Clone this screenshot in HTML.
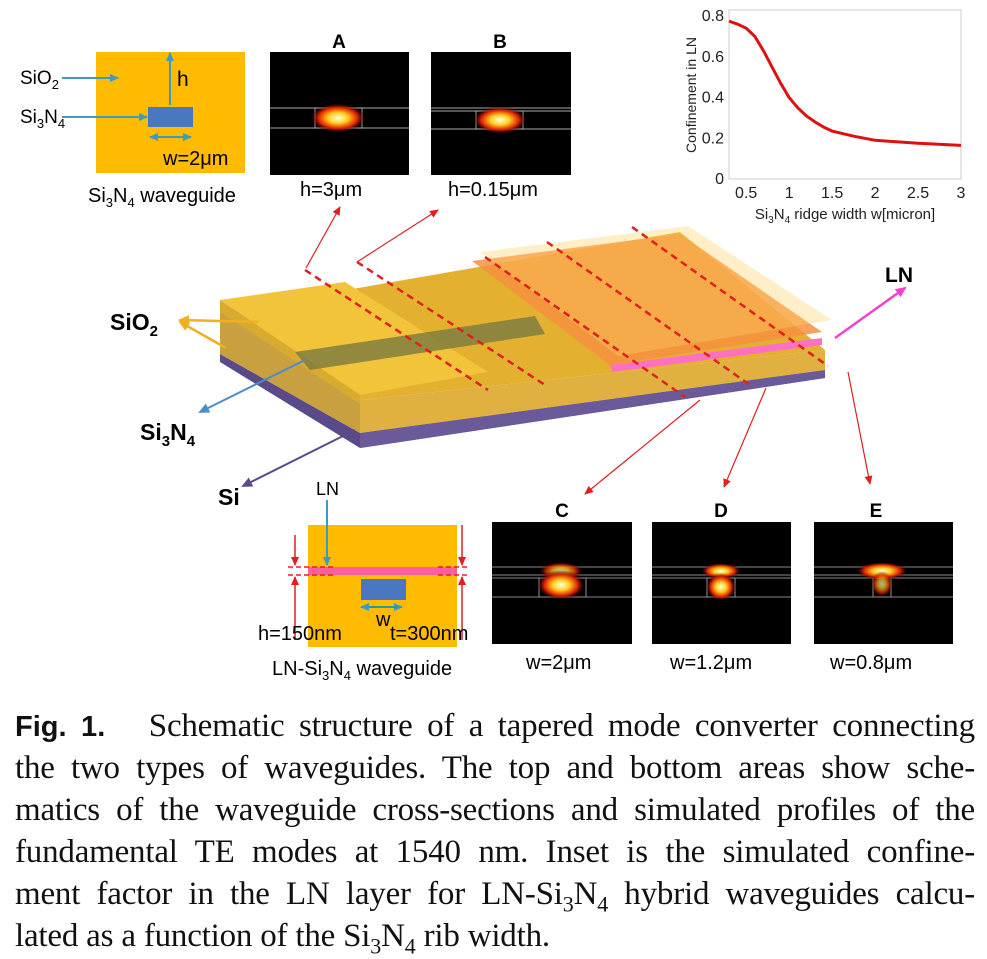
<!DOCTYPE html>
<html><head><meta charset="utf-8">
<style>
body{margin:0;background:#fff;}
#wrap{position:relative;width:987px;height:959px;overflow:hidden;background:#fff;font-family:"Liberation Sans",sans-serif;}
.cap{position:absolute;left:15px;top:705px;width:960px;font-family:"Liberation Serif",serif;font-size:33px;line-height:42px;color:#111;letter-spacing:-0.2px;}
.cap div{text-align:justify;text-align-last:justify;white-space:nowrap;height:42px;}
.cap div.last{text-align-last:left;}
.cap b{font-family:"Liberation Sans",sans-serif;font-size:29px;letter-spacing:0;}
.cap sub{font-size:22px;line-height:0;}
</style></head>
<body>
<div id="wrap">
<svg width="987" height="700" style="position:absolute;left:0;top:0" font-family="Liberation Sans, DejaVu Sans, sans-serif">
<defs>
<radialGradient id="glow"><stop offset="0" stop-color="#ffffe0"/><stop offset="0.35" stop-color="#ffd020"/><stop offset="0.7" stop-color="#e02000"/><stop offset="1" stop-color="#200000" stop-opacity="0"/></radialGradient>
<marker id="ab" markerUnits="userSpaceOnUse" markerWidth="10" markerHeight="10" refX="8" refY="5" orient="auto"><path d="M0,1L9,5L0,9z" fill="#3d9bbf"/></marker>
<marker id="ar" markerUnits="userSpaceOnUse" markerWidth="10" markerHeight="10" refX="8" refY="5" orient="auto"><path d="M0,1L9,5L0,9z" fill="#e02020"/></marker>
<marker id="ay" markerUnits="userSpaceOnUse" markerWidth="12" markerHeight="12" refX="9" refY="6" orient="auto"><path d="M0,1L11,6L0,11z" fill="#f0b020"/></marker>
<marker id="abl" markerUnits="userSpaceOnUse" markerWidth="12" markerHeight="12" refX="9" refY="6" orient="auto"><path d="M0,1L11,6L0,11z" fill="#4a8ccc"/></marker>
<marker id="ap" markerUnits="userSpaceOnUse" markerWidth="12" markerHeight="12" refX="9" refY="6" orient="auto"><path d="M0,1L11,6L0,11z" fill="#5a4a8a"/></marker>
<marker id="am" markerUnits="userSpaceOnUse" markerWidth="12" markerHeight="12" refX="9" refY="6" orient="auto"><path d="M0,1L11,6L0,11z" fill="#ee44cc"/></marker>
</defs>

<g>
<rect x="96" y="52" width="149" height="121" fill="#ffbb00"/>
<rect x="148" y="107" width="45" height="20" fill="#4a78c0"/>
<line x1="170" y1="105" x2="170" y2="53" stroke="#3d9bbf" stroke-width="2" marker-end="url(#ab)"/>
<text x="177" y="86" font-size="21">h</text>
<line x1="62" y1="78" x2="118" y2="78" stroke="#3d9bbf" stroke-width="2" marker-end="url(#ab)"/>
<line x1="62" y1="117" x2="147" y2="117" stroke="#3d9bbf" stroke-width="2" marker-end="url(#ab)"/>
<line x1="152" y1="137" x2="191" y2="137" stroke="#3d9bbf" stroke-width="2" marker-end="url(#ab)"/>
<line x1="188" y1="137" x2="150" y2="137" stroke="#3d9bbf" stroke-width="2" marker-end="url(#ab)"/>
<text x="163" y="165" font-size="20">w=2μm</text>
<text x="20" y="84" font-size="19">SiO<tspan font-size="13" dy="5">2</tspan></text>
<text x="20" y="123" font-size="19">Si<tspan font-size="13" dy="5">3</tspan><tspan dy="-5">N</tspan><tspan font-size="13" dy="5">4</tspan></text>
<text x="88" y="202" font-size="20">Si<tspan font-size="13" dy="5">3</tspan><tspan dy="-5">N</tspan><tspan font-size="13" dy="5">4</tspan><tspan dy="-5"> waveguide</tspan></text>
</g>

<g>
<text x="339" y="48" font-size="19" font-weight="bold" text-anchor="middle">A</text>
<rect x="270" y="52" width="139" height="123" fill="#000"/>
<line x1="270" y1="108" x2="409" y2="108" stroke="#888" stroke-width="1.2"/>
<line x1="270" y1="128" x2="409" y2="128" stroke="#888" stroke-width="1.2"/>
<rect x="315" y="108" width="47" height="20" fill="none" stroke="#888" stroke-width="1.2"/>
<ellipse cx="338" cy="118" rx="28" ry="15" fill="url(#glow)"/>
<text x="300" y="196" font-size="20">h=3μm</text>
</g>
<g>
<text x="500" y="48" font-size="19" font-weight="bold" text-anchor="middle">B</text>
<rect x="431" y="52" width="140" height="123" fill="#000"/>
<line x1="431" y1="108" x2="571" y2="108" stroke="#888" stroke-width="1.2"/>
<line x1="431" y1="111" x2="571" y2="111" stroke="#888" stroke-width="1.2"/>
<line x1="431" y1="129" x2="571" y2="129" stroke="#888" stroke-width="1.2"/>
<rect x="476" y="111" width="47" height="18" fill="none" stroke="#888" stroke-width="1.2"/>
<ellipse cx="500" cy="120" rx="27" ry="14" fill="url(#glow)"/>
<text x="448" y="196" font-size="20">h=0.15μm</text>
</g>

<g>
<polygon points="220,354 360,433 825,370 825,378 360,448 220,362" fill="#5a4a8a"/>
<polygon points="360,433 825,370 825,378 360,448" fill="#6b5a9a"/>
<polygon points="220,312 360,400 360,433 220,354" fill="#c8a040"/>
<polygon points="360,400 825,350 825,370 360,433" fill="#e0b040"/>
<polygon points="220,312 680,232 825,350 360,400" fill="#e4b030"/>
<polygon points="220,300 345,282 488,372 360,395" fill="#f2c43a"/>
<polygon points="220,300 220,312 360,404 360,395" fill="#d8aa30"/>
<polygon points="295,352 535,316 545,334 310,370" fill="#7a7a40" opacity="0.8"/>
<polygon points="610,365 822,338 822,345 612,372" fill="#ff70c0"/>
<polygon points="472,261 680,234 822,332 610,365" fill="#f59040" opacity="0.85"/>
<polygon points="480,252 688,226 832,320 618,356" fill="#ffd060" opacity="0.35"/>
<line x1="835" y1="338" x2="905" y2="288" stroke="#ee44cc" stroke-width="2.5" marker-end="url(#am)"/>
<text x="885" y="282" font-size="21" font-weight="bold">LN</text>
<line x1="258" y1="322" x2="180" y2="320" stroke="#f0b020" stroke-width="2.5" marker-end="url(#ay)"/>
<line x1="226" y1="348" x2="180" y2="322" stroke="#f0b020" stroke-width="2.5" marker-end="url(#ay)"/>
<text x="110" y="330" font-size="23" font-weight="bold">SiO<tspan font-size="15" dy="6">2</tspan></text>
<line x1="305" y1="360" x2="200" y2="412" stroke="#4a8ccc" stroke-width="2" marker-end="url(#abl)"/>
<text x="140" y="440" font-size="23" font-weight="bold">Si<tspan font-size="15" dy="6">3</tspan><tspan dy="-6">N</tspan><tspan font-size="15" dy="6">4</tspan></text>
<line x1="355" y1="430" x2="243" y2="486" stroke="#5a4a8a" stroke-width="2" marker-end="url(#ap)"/>
<text x="218" y="505" font-size="23" font-weight="bold">Si</text>
<g stroke="#e02020" stroke-width="2.5" stroke-dasharray="7,5" fill="none">
<line x1="305" y1="270" x2="488" y2="390"/>
<line x1="357" y1="262" x2="545" y2="385"/>
<line x1="485" y1="257" x2="685" y2="397"/>
<line x1="547" y1="242" x2="750" y2="385"/>
<line x1="632" y1="227" x2="828" y2="366"/>
</g>
<g stroke="#e02020" stroke-width="1.2" fill="none">
<line x1="306" y1="268" x2="340" y2="207" marker-end="url(#ar)"/>
<line x1="357" y1="262" x2="438" y2="210" marker-end="url(#ar)"/>
<line x1="700" y1="400" x2="585" y2="494" marker-end="url(#ar)"/>
<line x1="766" y1="388" x2="724" y2="487" marker-end="url(#ar)"/>
<line x1="848" y1="372" x2="870" y2="484" marker-end="url(#ar)"/>
</g>
</g>

<g>
<rect x="308" y="525" width="149" height="122" fill="#ffbb00"/>
<rect x="308" y="567" width="149" height="8" fill="#ff5fa0"/>
<rect x="361" y="579" width="45" height="21" fill="#4a78c0"/>
<line x1="327" y1="500" x2="327" y2="565" stroke="#3d9bbf" stroke-width="2" marker-end="url(#ab)"/>
<text x="316" y="495" font-size="18">LN</text>
<g stroke="#e02020" stroke-width="1.5">
<line x1="295" y1="535" x2="295" y2="565" marker-end="url(#ar)"/>
<line x1="295" y1="640" x2="295" y2="577" marker-end="url(#ar)"/>
<line x1="462" y1="525" x2="462" y2="565" marker-end="url(#ar)"/>
<line x1="462" y1="640" x2="462" y2="577" marker-end="url(#ar)"/>
<line x1="288" y1="567" x2="336" y2="567" stroke-dasharray="5,3"/>
<line x1="288" y1="575" x2="336" y2="575" stroke-dasharray="5,3"/>
<line x1="438" y1="567" x2="470" y2="567" stroke-dasharray="5,3"/>
<line x1="438" y1="575" x2="470" y2="575" stroke-dasharray="5,3"/>
</g>
<line x1="365" y1="607" x2="402" y2="607" stroke="#2a9a9a" stroke-width="2" marker-end="url(#ab)"/>
<line x1="398" y1="607" x2="361" y2="607" stroke="#2a9a9a" stroke-width="2" marker-end="url(#ab)"/>
<text x="258" y="640" font-size="20">h=150nm</text>
<text x="376" y="626" font-size="20">w</text><text x="390" y="640" font-size="20">t=300nm</text>
<text x="272" y="675" font-size="20">LN-Si<tspan font-size="13" dy="5">3</tspan><tspan dy="-5">N</tspan><tspan font-size="13" dy="5">4</tspan><tspan dy="-5"> waveguide</tspan></text>
</g>

<g>
<text x="562" y="517" font-size="19" font-weight="bold" text-anchor="middle">C</text>
<rect x="492" y="522" width="140" height="122" fill="#000"/>
<g stroke="#888" stroke-width="1.1"><line x1="492" y1="567" x2="632" y2="567"/><line x1="492" y1="575" x2="632" y2="575"/><line x1="492" y1="578" x2="632" y2="578"/><line x1="492" y1="597" x2="632" y2="597"/></g>
<rect x="539" y="578" width="47" height="19" fill="none" stroke="#888" stroke-width="1.1"/>
<ellipse cx="561" cy="571" rx="22" ry="9" fill="url(#glow)" opacity="0.8"/>
<ellipse cx="561" cy="585" rx="24" ry="15" fill="url(#glow)"/>
<text x="526" y="669" font-size="20">w=2μm</text>
</g>
<g>
<text x="721" y="517" font-size="19" font-weight="bold" text-anchor="middle">D</text>
<rect x="652" y="522" width="139" height="122" fill="#000"/>
<g stroke="#888" stroke-width="1.1"><line x1="652" y1="567" x2="791" y2="567"/><line x1="652" y1="575" x2="791" y2="575"/><line x1="652" y1="578" x2="791" y2="578"/><line x1="652" y1="597" x2="791" y2="597"/></g>
<rect x="707" y="578" width="28" height="19" fill="none" stroke="#888" stroke-width="1.1"/>
<ellipse cx="721" cy="571" rx="20" ry="8" fill="url(#glow)"/>
<ellipse cx="721" cy="587" rx="15" ry="14" fill="url(#glow)"/>
<text x="670" y="669" font-size="20">w=1.2μm</text>
</g>
<g>
<text x="876" y="517" font-size="19" font-weight="bold" text-anchor="middle">E</text>
<rect x="814" y="522" width="139" height="122" fill="#000"/>
<g stroke="#888" stroke-width="1.1"><line x1="814" y1="567" x2="953" y2="567"/><line x1="814" y1="575" x2="953" y2="575"/><line x1="814" y1="578" x2="953" y2="578"/><line x1="814" y1="597" x2="953" y2="597"/></g>
<rect x="873" y="578" width="18" height="19" fill="none" stroke="#888" stroke-width="1.1"/>
<ellipse cx="882" cy="571" rx="26" ry="9" fill="url(#glow)"/>
<ellipse cx="882" cy="584" rx="11" ry="13" fill="url(#glow)" opacity="0.7"/>
<text x="830" y="669" font-size="20">w=0.8μm</text>
</g>

<g id="chart"></g>
</svg>

<div class="cap">
<div><b>Fig. 1.</b>&nbsp;&nbsp; Schematic structure of a tapered mode converter connecting</div>
<div>the two types of waveguides. The top and bottom areas show sche-</div>
<div>matics of the waveguide cross-sections and simulated profiles of the</div>
<div>fundamental TE modes at 1540 nm. Inset is the simulated confine-</div>
<div>ment factor in the LN layer for LN-Si<sub>3</sub>N<sub>4</sub> hybrid waveguides calcu-</div>
<div class="last">lated as a function of the Si<sub>3</sub>N<sub>4</sub> rib width.</div>
</div>
</div>
<script>
const widths = [0.3,0.4,0.5,0.6,0.7,0.8,0.9,1.0,1.1,1.2,1.3,1.4,1.5,1.75,2.0,2.5,3.0];
const confinement = [0.775,0.76,0.74,0.70,0.63,0.55,0.47,0.40,0.35,0.31,0.28,0.255,0.235,0.21,0.19,0.175,0.165];
const xTicks = [0.5,1,1.5,2,2.5,3];
const xTickLabels = ["0.5","1","1.5","2","2.5","3"];
const yTicks = [0,0.2,0.4,0.6,0.8];
const yTickLabels = ["0","0.2","0.4","0.6","0.8"];
const NS="http://www.w3.org/2000/svg";
const g=document.getElementById('chart');
const L=729,R=961,T=10,B=179;
const xs=v=>L+(v-0.3)/(3-0.3)*(R-L);
const ys=v=>B-(v/0.8)*(B-16);
function mk(tag,attrs,txt){const e=document.createElementNS(NS,tag);for(const k in attrs)e.setAttribute(k,attrs[k]);if(txt!==undefined)e.textContent=txt;g.appendChild(e);return e;}
const frame=mk('rect',{x:L,y:T,width:R-L,height:B-T,fill:'none',stroke:'#ccc','stroke-width':1});


xTicks.forEach((t,i)=>{
  const tl=mk('text',{x:xs(t),y:B+19,'font-size':16,'text-anchor':'middle',fill:'#222'},xTickLabels[i]);
  
  
});
yTicks.forEach((t,i)=>{
  const tl=mk('text',{x:L-5,y:ys(t)+5,'font-size':16,'text-anchor':'end',fill:'#222'},yTickLabels[i]);
  
  
});
const line=mk('path',{d:widths.map((w,i)=>(i?'L':'M')+xs(w).toFixed(1)+','+ys(confinement[i]).toFixed(1)).join(''),fill:'none',stroke:'#e01010','stroke-width':3});


const xt=mk('text',{x:845,y:219,'font-size':15,'text-anchor':'middle',fill:'#222'});
xt.innerHTML='Si<tspan font-size="10" dy="4">3</tspan><tspan dy="-4">N</tspan><tspan font-size="10" dy="4">4</tspan><tspan dy="-4"> ridge width w[micron]</tspan>';


const yt=mk('text',{x:0,y:0,'font-size':14,'text-anchor':'middle',fill:'#222',transform:'translate(696,95) rotate(-90)'},'Confinement in LN');


</script>
</body></html>
